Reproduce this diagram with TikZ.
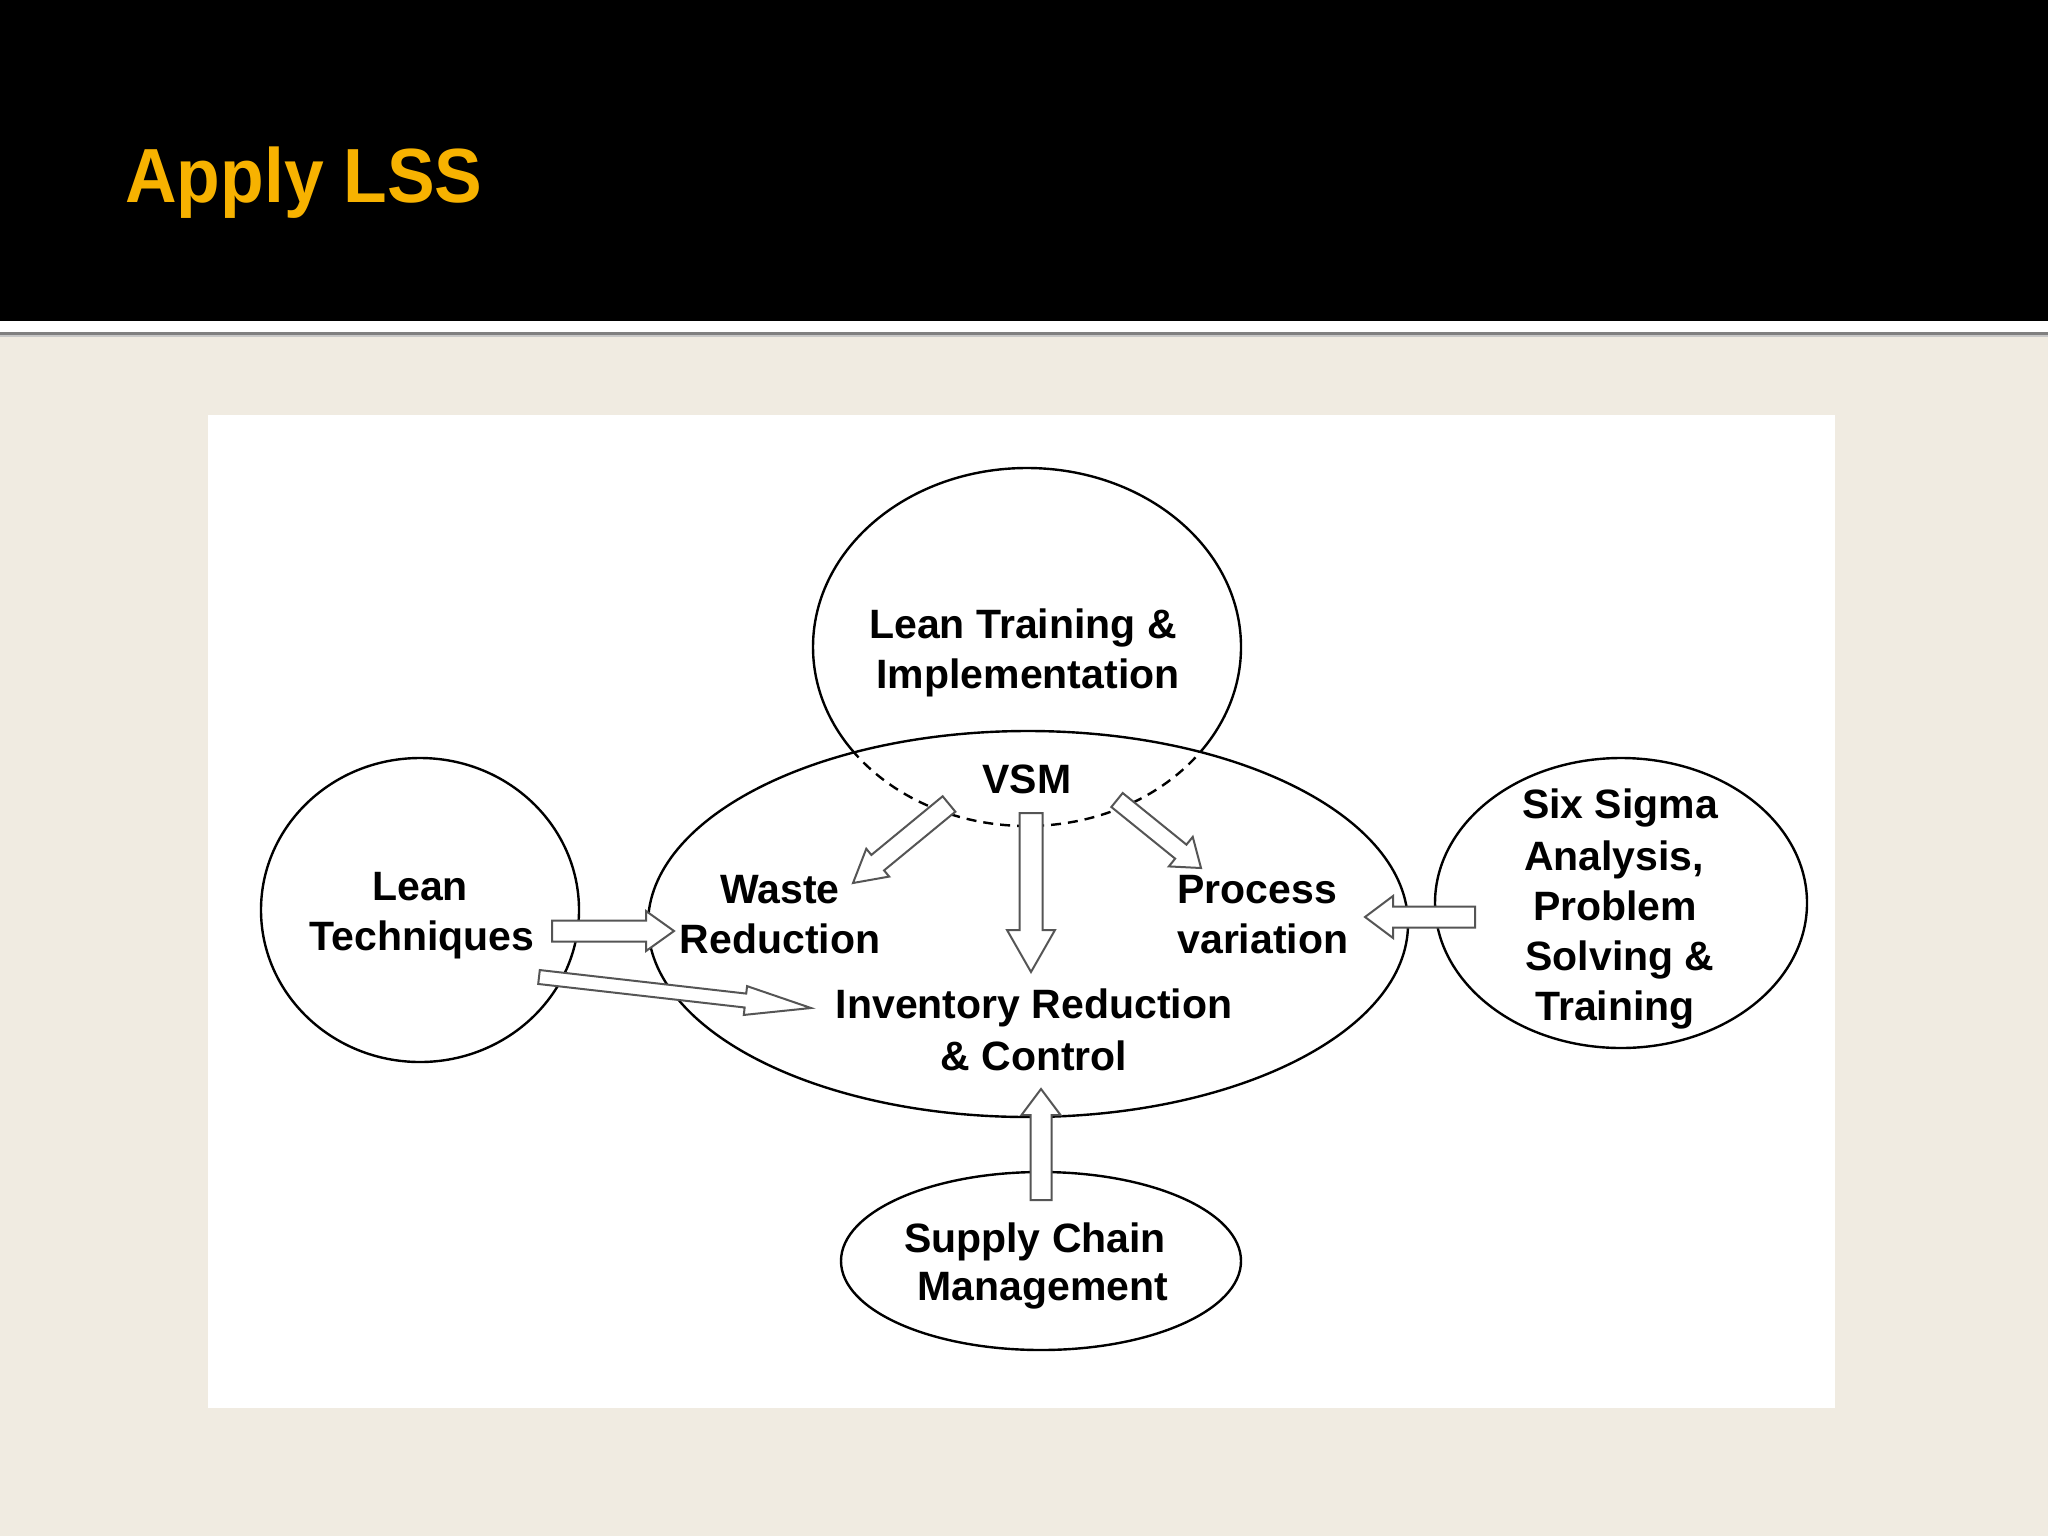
\documentclass[tikz,border=0pt]{standalone}
\usepackage{fontspec}
\setmainfont{Liberation Sans}
\usetikzlibrary{shapes.geometric,calc}
\definecolor{beige}{RGB}{240,235,225}
\definecolor{gold}{RGB}{247,178,0}
\definecolor{arrowline}{RGB}{85,85,85}
\tikzset{
  bubble/.style={ellipse, draw=black, line width=1.2pt, inner sep=0pt},
  lbl/.style={font=\bfseries\fontsize{20.5pt}{25pt}\selectfont, anchor=base, inner sep=0pt, text=black},
  hollow/.style={draw=arrowline, fill=white, line width=1pt, line join=miter},
}
% #1 tail, #2 tip, #3 shaft half-width, #4 head half-width, #5 head length
\newcommand\hollowarrow[5]{%
  \path ($(#2)!#5!(#1)$) coordinate (bah);
  \draw[hollow] ($(#1)!#3!90:(#2)$) -- ($(bah)!#3!90:(#2)$) -- ($(bah)!#4!90:(#2)$) -- (#2)
     -- ($(bah)!#4!-90:(#2)$) -- ($(bah)!#3!-90:(#2)$) -- ($(#1)!#3!-90:(#2)$) -- cycle;}
\begin{document}
\begin{tikzpicture}[x=0.5pt,y=-0.5pt]
\useasboundingbox (0,0) rectangle (2048,1536);
% background and header
\fill[beige] (0,0) rectangle (2048,1536);
\fill[black] (0,0) rectangle (2048,321);
\fill[white] (0,321) rectangle (2048,332);
\fill[black!50] (0,332) rectangle (2048,334.5);
\fill[black!22] (0,334.5) rectangle (2048,337);
\node[anchor=base west, inner sep=0pt, text=gold, font=\bfseries\fontsize{38.4pt}{40pt}\selectfont] (title) at (125,202) {\scalebox{0.93}[1]{Apply LSS}};
% white panel
\fill[white] (208,415) rectangle (1835,1408);

% ellipses
\node[bubble, draw=none, minimum width=214pt, minimum height=179pt] (train) at (1027,647) {};
\begin{scope}
  \clip (0,0) rectangle (2048,752);
  \draw[line width=1.2pt] (train.center) ellipse [x radius=107pt, y radius=89.5pt];
\end{scope}
\begin{scope}
  \clip (0,752) rectangle (2048,1536);
  \draw[line width=1.2pt, dash pattern=on 5pt off 3.5pt] (train.center) ellipse [x radius=107pt, y radius=89.5pt];
\end{scope}
\node[bubble, minimum width=380pt, minimum height=193pt] (main) at (1028,924) {};
\node[bubble, minimum width=159pt, minimum height=152pt] (lean) at (420,910) {};
\node[bubble, minimum width=186pt, minimum height=145pt] (six) at (1621,903) {};
\node[bubble, minimum width=200pt, minimum height=89pt] (supply) at (1041,1261) {};

% arrow end points
\coordinate (a1s) at (552,931);  \coordinate (a1e) at (674,931);
\coordinate (a2s) at (539,977);  \coordinate (a2e) at (811,1008);
\coordinate (a3s) at (949,804);  \coordinate (a3e) at (853,883);
\coordinate (a4s) at (1031,813); \coordinate (a4e) at (1031,972);
\coordinate (a5s) at (1117,800); \coordinate (a5e) at (1201,868);
\coordinate (a6s) at (1475,917); \coordinate (a6e) at (1365,917);
\coordinate (a7s) at (1041,1200);\coordinate (a7e) at (1041,1089);

\hollowarrow{a1s}{a1e}{5.25pt}{10pt}{14pt}
\hollowarrow{a2s}{a2e}{3.5pt}{7.25pt}{33pt}
\hollowarrow{a3s}{a3e}{5pt}{9pt}{16pt}
\hollowarrow{a4s}{a4e}{5.75pt}{12pt}{21pt}
\hollowarrow{a5s}{a5e}{4.5pt}{9.5pt}{13pt}
\hollowarrow{a6s}{a6e}{5.25pt}{10.5pt}{14pt}
\hollowarrow{a7s}{a7e}{5.25pt}{9.75pt}{13pt}

% labels
\node[lbl] (lt1) at (1023,638) {Lean Training \&};
\node[lbl] (lt2) at (1028,688) {Implementation};
\node[lbl] (vsm) at (1027,793) {VSM};
\node[lbl] (w1) at (780,903) {Waste};
\node[lbl] (w2) at (780,953) {Reduction};
\node[lbl, anchor=base west] (p1) at (1177,903) {Process};
\node[lbl, anchor=base west] (p2) at (1177,953) {variation};
\node[lbl] (i1) at (1034,1018) {Inventory Reduction};
\node[lbl] (i2) at (1034,1070) {\& Control};
\node[lbl] (l1) at (420,900) {Lean};
\node[lbl] (l2) at (422,950) {Techniques};
\node[lbl] (s1) at (1620,818) {Six Sigma};
\node[lbl] (s2) at (1614,870) {Analysis,};
\node[lbl] (s3) at (1615,920) {Problem};
\node[lbl] (s4) at (1620,970) {Solving \&};
\node[lbl] (s5) at (1615,1020) {Training};
\node[lbl] (sc1) at (1035,1252) {Supply Chain};
\node[lbl] (sc2) at (1043,1300) {Management};
\end{tikzpicture}
\end{document}
